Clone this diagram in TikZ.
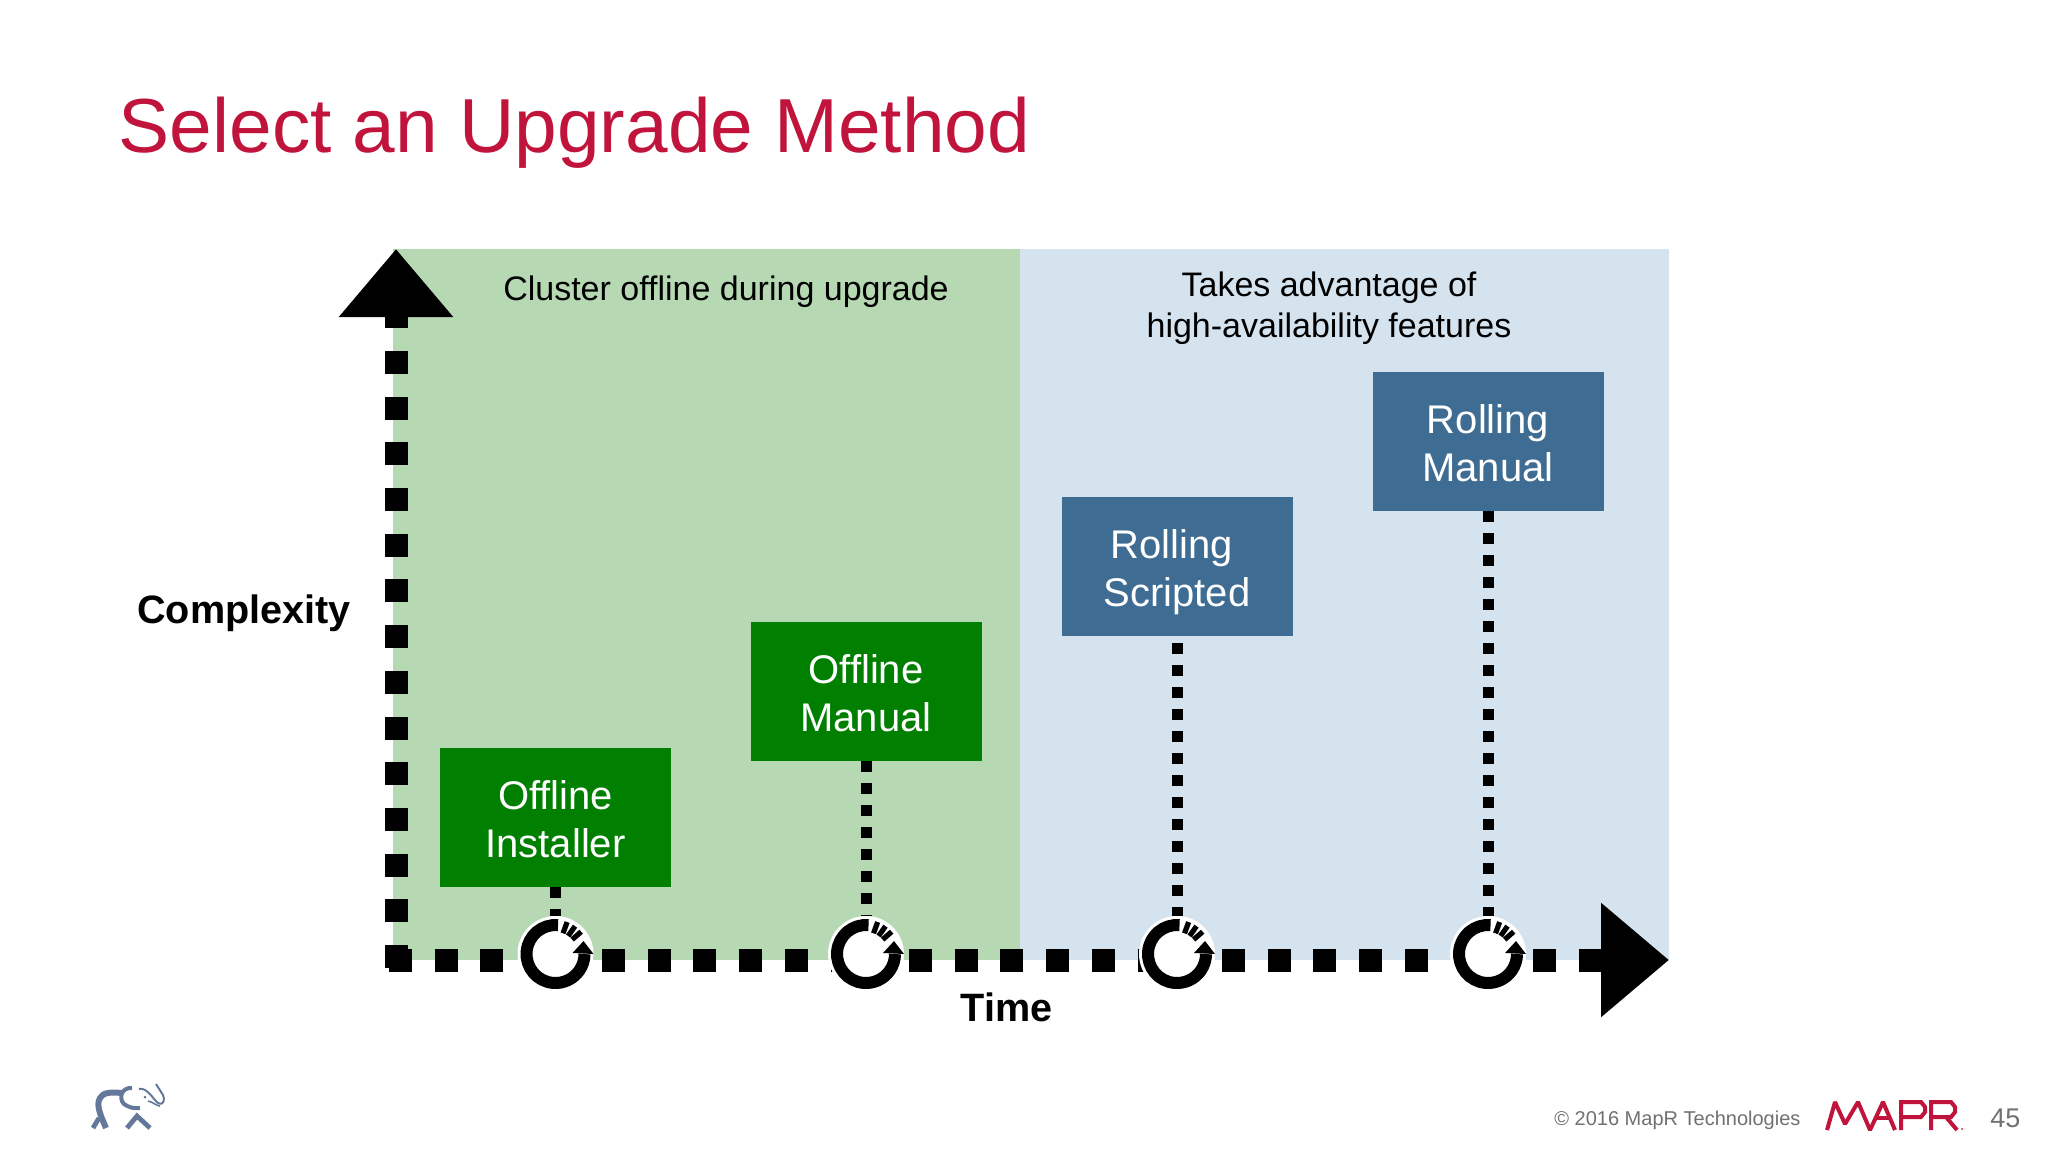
\documentclass[tikz,border=0pt]{standalone}
\usepackage{xcolor}
\usepackage{fontspec}
\setmainfont{Liberation Sans}
\usetikzlibrary{arrows.meta}

\definecolor{titlered}{HTML}{C1143C}
\definecolor{offgreen}{HTML}{007F00}
\definecolor{rollblue}{HTML}{3E6C92}
\definecolor{lightgreen}{HTML}{B6D9B3}
\definecolor{lightblue}{HTML}{D5E3EE}
\definecolor{footgray}{HTML}{707075}
\definecolor{logoblue}{HTML}{64799A}

\tikzset{
	methodbox/.style={shape=rectangle,text=white,align=center,font=\fontsize{20}{23.9}\selectfont,
		minimum width=115.5pt,minimum height=69.5pt,inner sep=0pt},
	axisline/.style={line width=11.5pt,dash pattern=on 11.5pt off 11.35pt},
	stemline/.style={line width=5.5pt,dash pattern=on 5.5pt off 5.5pt},
	iconspot/.style={shape=circle,fill=white,minimum size=38pt,inner sep=0pt},
	upgradeicon/.pic={
		\draw[line width=6pt] (85:14.5pt) arc[start angle=85,end angle=360,radius=14.5pt];
		\fill (8.5pt,0.5pt) -- (19pt,0pt) -- (14pt,6.5pt) -- cycle;
		\draw[line width=2.6pt] (70:11pt) -- (70:17pt);
		\draw[line width=2.6pt] (55:11pt) -- (55:17pt);
		\draw[line width=2.6pt] (41:11pt) -- (41:17pt);
	}
}

\begin{document}
\begin{tikzpicture}[x=0.5pt,y=-0.5pt]
	\useasboundingbox (0, 0) rectangle (2048, 1152);
	\fill[white] (0, 0) rectangle (2048, 1152);

	% shaded regions
	\fill[lightgreen] (393, 249) rectangle (1020, 960);
	\fill[lightblue]  (1020, 249) rectangle (1669, 960);

	\node[text=titlered,anchor=base west,inner sep=0pt,font=\fontsize{38.3}{45}\selectfont]
		(title) at (118.5, 152.5) {Select an Upgrade Method};

	\node[font=\fontsize{17}{20.5}\selectfont]
		(offlinenote) at (726, 291.5) {Cluster offline during upgrade};
	\node[align=center,font=\fontsize{17}{20.5}\selectfont]
		(hanote) at (1329, 308.5) {Takes advantage of\\high-availability features};

	% axes
	\coordinate (ystart) at (396, 968);
	\coordinate (ytip)   at (396, 249);
	\coordinate (xstart) at (389, 960);
	\coordinate (xtip)   at (1669, 960);
	\coordinate (marka)  at (555.5, 960);
	\coordinate (markb)  at (866, 960);
	\coordinate (markc)  at (1177, 960);
	\coordinate (markd)  at (1445, 960);
	\coordinate (gapa)   at (602, 960);
	\coordinate (gapb)   at (909, 960);
	\coordinate (gapc)   at (1222, 960);
	\coordinate (gapd)   at (1533, 960);
	\draw[axisline, -{Triangle[length=34pt,width=55pt]}] (ystart) -- (ytip);
	\draw[axisline] (xstart) -- (marka);
	\draw[axisline] (gapa) -- (markb);
	\draw[axisline] (gapb) -- (markc);
	\draw[axisline] (gapc) -- (markd);
	\draw[axisline, -{Triangle[length=34pt,width=55pt]}] (gapd) -- (xtip);

	\node[font=\bfseries\fontsize{19.8}{23}\selectfont] (complexity) at (244, 613.5) {Complexity};
	\node[font=\bfseries\fontsize{19.8}{23}\selectfont] (timelabel) at (1006.5, 1007) {Time};

	% methods
	\node[methodbox,fill=offgreen] (installer) at (555.5, 817.5)
		{\rule{0pt}{16.5pt}Offline\\Installer};
	\node[methodbox,fill=offgreen] (manual)    at (866, 691.5)
		{\rule{0pt}{16.5pt}Offline\\Manual};
	\node[methodbox,fill=rollblue] (scripted)  at (1177, 566.5)
		{\rule{0pt}{20pt}Rolling\hspace*{5pt}\\Scripted};
	\node[methodbox,fill=rollblue] (rolling)   at (1488, 441.5)
		{\rule{0pt}{16.5pt}Rolling\\Manual};

	\node[iconspot] (spota) at (555.5, 954) {};
	\node[iconspot] (spotb) at (866, 954)   {};
	\node[iconspot] (spotc) at (1177, 954)  {};
	\node[iconspot] (spotd) at (1488, 954)  {};

	\draw[stemline] (installer) -- (spota);
	\draw[stemline] (manual)    -- (spotb);
	\draw[stemline, dash phase=7.7pt] (scripted) -- (spotc);
	\draw[stemline] (rolling)   -- (spotd);

	\foreach \n in {spota,spotb,spotc,spotd}
		\pic at (\n) {upgradeicon};

	% footer
	\node[text=footgray,anchor=base west,inner sep=0pt,font=\fontsize{10}{12}\selectfont]
		(copyright) at (1554, 1125) {© 2016 MapR Technologies};
	\node[text=footgray,anchor=base west,inner sep=0pt,font=\fontsize{13.5}{16}\selectfont]
		(pagenum) at (1990, 1127) {45};

	% elephant
	\begin{scope}[logoblue]
		\draw[line width=3pt] (106, 1128) .. controls (100, 1114) and (96, 1105) .. (100, 1098)
			.. controls (103, 1092) and (112, 1092) .. (122, 1093);
		\draw[line width=2.4pt] (93, 1128) -- (99, 1118);
		\draw[line width=2.4pt] (127, 1128) -- (137, 1116) -- (150, 1128);
		\draw[line width=2pt] (132, 1088) .. controls (122, 1087) and (118, 1098) .. (124, 1104)
			.. controls (128, 1107) and (134, 1109) .. (140, 1108);
		\draw[line width=1pt] (139, 1089) .. controls (147, 1087) and (153, 1099) .. (158, 1103)
			.. controls (164, 1106) and (165, 1099) .. (163, 1095) -- (156, 1084);
		\draw[line width=0.8pt] (148, 1101) .. controls (153, 1102) and (157, 1106) .. (160, 1106);
		\fill (145, 1097) circle[radius=1.5];
	\end{scope}

	% logo
	\draw[titlered,line width=2pt,miter limit=2]
		(1827, 1130) -- (1835, 1102) -- (1845, 1124) -- (1858, 1102) -- (1870, 1130)
		-- (1883, 1102) -- (1895, 1130);
	\draw[titlered,line width=1.8pt] (1877, 1118) -- (1891, 1118);
	\draw[titlered,line width=2pt] (1901, 1130) -- (1901, 1102) -- (1921, 1102)
		-- (1925, 1107) -- (1925, 1112) -- (1921, 1117) -- (1901, 1117);
	\draw[titlered,line width=2pt] (1931, 1130) -- (1931, 1102) -- (1951, 1102)
		-- (1955, 1107) -- (1955, 1112) -- (1951, 1117) -- (1931, 1117)
		(1946, 1117) -- (1957, 1130);
	\fill[titlered] (1962, 1129) circle[radius=1];
\end{tikzpicture}
\end{document}
